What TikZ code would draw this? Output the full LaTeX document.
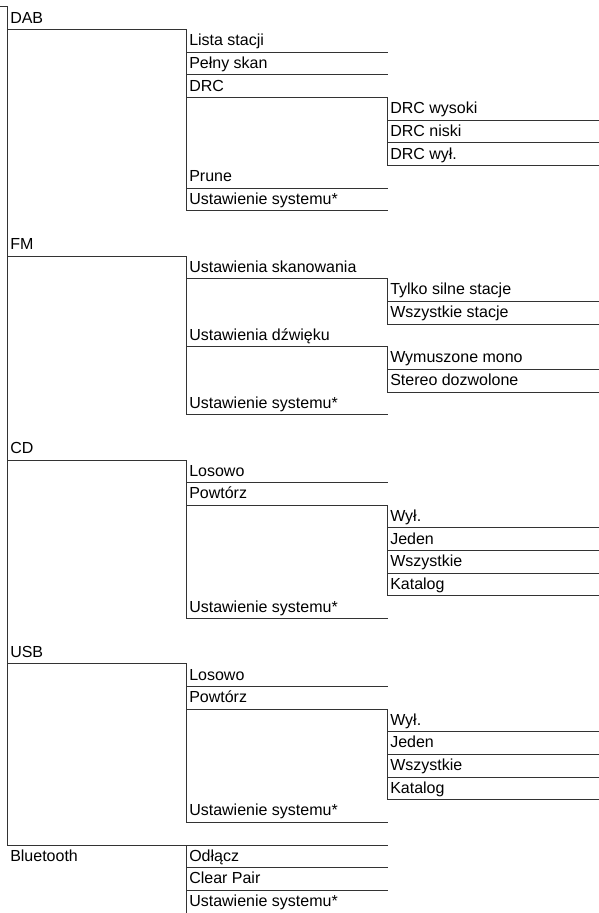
\documentclass[tikz,border=0pt]{standalone}
\usepackage{fontspec}
\setmainfont{Liberation Sans}
\newcommand\rowY[1]{(7+22.65*(#1))}
\newcommand\itm[4]{\node[lbl] (#1) at (#2,{\rowY{#3}-6.5}) {#4};}
\tikzset{
  ln/.style={draw=black!80, line width=0.75pt, line cap=rect},
  lbl/.style={anchor=base west, inner sep=0pt, font=\fontsize{12}{14}\selectfont, text=black},
}
\begin{document}
\begin{tikzpicture}[x=0.75pt,y=-0.75pt]
\useasboundingbox (0,0) rectangle (599,913);
% ---- labels
\itm{dab}{10}{1}{DAB}
\itm{lista}{189}{2}{Lista stacji}
\itm{pelny}{189}{3}{Pełny skan}
\itm{drc}{189}{4}{DRC}
\itm{drchi}{390}{5}{DRC wysoki}
\itm{drclo}{390}{6}{DRC niski}
\itm{drcoff}{390}{7}{DRC wył.}
\itm{prune}{189}{8}{Prune}
\itm{dabsys}{189}{9}{Ustawienie systemu*}
\itm{fm}{10}{11}{FM}
\itm{skan}{189}{12}{Ustawienia skanowania}
\itm{silne}{390}{13}{Tylko silne stacje}
\itm{wszst}{390}{14}{Wszystkie stacje}
\itm{dzw}{189}{15}{Ustawienia dźwięku}
\itm{mono}{390}{16}{Wymuszone mono}
\itm{stereo}{390}{17}{Stereo dozwolone}
\itm{fmsys}{189}{18}{Ustawienie systemu*}
\itm{cd}{10}{20}{CD}
\itm{cdlos}{189}{21}{Losowo}
\itm{cdpow}{189}{22}{Powtórz}
\itm{cdoff}{390}{23}{Wył.}
\itm{cdone}{390}{24}{Jeden}
\itm{cdall}{390}{25}{Wszystkie}
\itm{cdkat}{390}{26}{Katalog}
\itm{cdsys}{189}{27}{Ustawienie systemu*}
\itm{usb}{10}{29}{USB}
\itm{usblos}{189}{30}{Losowo}
\itm{usbpow}{189}{31}{Powtórz}
\itm{usboff}{390}{32}{Wył.}
\itm{usbone}{390}{33}{Jeden}
\itm{usball}{390}{34}{Wszystkie}
\itm{usbkat}{390}{35}{Katalog}
\itm{usbsys}{189}{36}{Ustawienie systemu*}
\itm{bt}{10}{38}{Bluetooth}
\itm{odl}{189}{38}{Odłącz}
\itm{clear}{189}{39}{Clear Pair}
\itm{btsys}{189}{40}{Ustawienie systemu*}
% ---- main spine
\draw[ln] (0,{\rowY{0}}) -- (7,{\rowY{0}}) -- (7,{\rowY{37}}) -- (387,{\rowY{37}});
% ---- DAB
\draw[ln] (7,{\rowY{1}}) -- (186,{\rowY{1}}) -- (186,{\rowY{9}}) -- (387,{\rowY{9}});
\foreach \k in {2,3,8} \draw[ln] (186,{\rowY{\k}}) -- (387,{\rowY{\k}});
\draw[ln] (186,{\rowY{4}}) -- (387,{\rowY{4}}) -- (387,{\rowY{7}}) -- (598,{\rowY{7}});
\foreach \k in {5,6} \draw[ln] (387,{\rowY{\k}}) -- (598,{\rowY{\k}});
% ---- FM
\draw[ln] (7,{\rowY{11}}) -- (186,{\rowY{11}}) -- (186,{\rowY{18}}) -- (387,{\rowY{18}});
\draw[ln] (186,{\rowY{12}}) -- (387,{\rowY{12}}) -- (387,{\rowY{14}}) -- (598,{\rowY{14}});
\draw[ln] (387,{\rowY{13}}) -- (598,{\rowY{13}});
\draw[ln] (186,{\rowY{15}}) -- (387,{\rowY{15}}) -- (387,{\rowY{17}}) -- (598,{\rowY{17}});
\draw[ln] (387,{\rowY{16}}) -- (598,{\rowY{16}});
% ---- CD
\draw[ln] (7,{\rowY{20}}) -- (186,{\rowY{20}}) -- (186,{\rowY{27}}) -- (387,{\rowY{27}});
\draw[ln] (186,{\rowY{21}}) -- (387,{\rowY{21}});
\draw[ln] (186,{\rowY{22}}) -- (387,{\rowY{22}}) -- (387,{\rowY{26}}) -- (598,{\rowY{26}});
\foreach \k in {23,24,25} \draw[ln] (387,{\rowY{\k}}) -- (598,{\rowY{\k}});
% ---- USB
\draw[ln] (7,{\rowY{29}}) -- (186,{\rowY{29}}) -- (186,{\rowY{36}}) -- (387,{\rowY{36}});
\draw[ln] (186,{\rowY{30}}) -- (387,{\rowY{30}});
\draw[ln] (186,{\rowY{31}}) -- (387,{\rowY{31}}) -- (387,{\rowY{35}}) -- (598,{\rowY{35}});
\foreach \k in {32,33,34} \draw[ln] (387,{\rowY{\k}}) -- (598,{\rowY{\k}});
% ---- Bluetooth
\draw[ln] (186,{\rowY{37}}) -- (186,913);
\foreach \k in {38,39} \draw[ln] (186,{\rowY{\k}}) -- (387,{\rowY{\k}});
\end{tikzpicture}
\end{document}
